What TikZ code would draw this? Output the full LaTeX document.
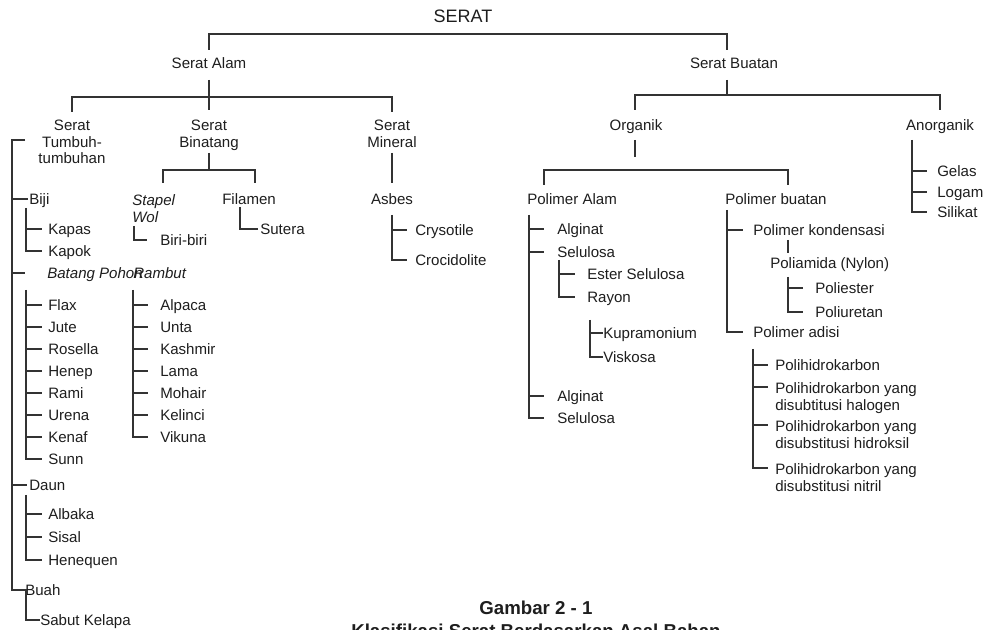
\documentclass[tikz,border=0pt]{standalone}
\usepackage{fontspec}
\setmainfont{Liberation Sans}
\newcommand\nrmf{\fontsize{11.3}{12.4}\selectfont}
\newcommand\bigtf{\fontsize{13.5}{15}\selectfont}
\newcommand\captf{\fontsize{14}{16}\selectfont\bfseries}
\definecolor{ln}{HTML}{333333}
\definecolor{tx}{HTML}{1E1E1E}
\tikzset{
  lbl/.style={font=\nrmf, text=tx, inner sep=0pt, anchor=mid west, yshift=-1.4pt},
  clbl/.style={font=\nrmf, text=tx, inner sep=0pt, anchor=mid, yshift=-1.4pt},
  mlw/.style={font=\fontsize{11.3}{13.3}\selectfont, text=tx, inner sep=0pt, align=left, anchor=north west, yshift=-0.8pt},
  mlc/.style={font=\nrmf, text=tx, inner sep=0pt, align=center, anchor=north, yshift=-0.8pt},
  conn/.style={draw=ln, line width=1.1pt},
}
\begin{document}
\begin{tikzpicture}[x=0.75pt,y=-0.75pt]
\useasboundingbox (0,0) rectangle (990,630);
\clip (0,0) rectangle (990,630);
\fill[white] (0,0) rectangle (990,630);

% ---- top levels ----
\node[font=\bigtf, text=tx, inner sep=0pt] (serat) at (463,16) {SERAT};
\node[clbl] (alam) at (209,63) {Serat Alam};
\node[clbl] (buatan) at (734,63) {Serat Buatan};
\draw[conn] (209,50) -- (209,34) -- (727,34) -- (727,50);

\node[mlc] (tumbuh) at (72,119) {Serat\\Tumbuh-\\tumbuhan};
\node[mlc] (binatang) at (209,119) {Serat\\Binatang};
\node[mlc] (mineral) at (392,119) {Serat\\Mineral};
\draw[conn] (209,80) -- (209,110);
\draw[conn] (72,112) -- (72,97) -- (392,97) -- (392,112);

\node[clbl] (organik) at (636,125) {Organik};
\node[clbl] (anorganik) at (940,125) {Anorganik};
\draw[conn] (727,80) -- (727,95);
\draw[conn] (635,110) -- (635,95) -- (940,95) -- (940,110);

% ---- Serat Tumbuh-tumbuhan ----
\node[lbl] (biji) at (29,199) {Biji};
\node[lbl] (batang) at (47,273) {\itshape Batang Pohon};
\node[lbl] (daun) at (29,485) {Daun};
\node[lbl] (buah) at (25,590) {Buah};
\draw[conn] (25,140) -- (12,140) -- (12,590) -- (27,590);
\draw[conn] (12,199) -- (28,199);
\draw[conn] (12,273) -- (25,273);
\draw[conn] (12,485) -- (27,485);

\node[lbl] (kapas) at (48,229) {Kapas};
\node[lbl] (kapok) at (48,251) {Kapok};
\draw[conn] (26,208) -- (26,251) -- (42,251);
\draw[conn] (26,229) -- (42,229);

\node[lbl] (flax) at (48,305) {Flax};
\node[lbl] (jute) at (48,327) {Jute};
\node[lbl] (rosella) at (48,349) {Rosella};
\node[lbl] (henep) at (48,371) {Henep};
\node[lbl] (rami) at (48,393) {Rami};
\node[lbl] (urena) at (48,415) {Urena};
\node[lbl] (kenaf) at (48,437) {Kenaf};
\node[lbl] (sunn) at (48,459) {Sunn};
\draw[conn] (26,290) -- (26,459) -- (42,459);
\foreach \yy in {305,327,349,371,393,415,437} \draw[conn] (26,\yy) -- (42,\yy);

\node[lbl] (albaka) at (48,514) {Albaka};
\node[lbl] (sisal) at (48,537) {Sisal};
\node[lbl] (henequen) at (48,560) {Henequen};
\draw[conn] (26,495) -- (26,560) -- (42,560);
\draw[conn] (26,514) -- (42,514);
\draw[conn] (26,537) -- (42,537);

\node[lbl] (sabut) at (40,620) {Sabut Kelapa};
\draw[conn] (26,589) -- (26,620) -- (40,620);

% ---- Serat Binatang ----
\draw[conn] (209,153) -- (209,170);
\draw[conn] (163,183) -- (163,170) -- (255,170) -- (255,183);
\node[mlw, font=\fontsize{11.3}{12.75}\selectfont\itshape] (stapel) at (132,193) {Stapel\\Wol};
\node[lbl] (filamen) at (222,199) {Filamen};
\node[lbl] (biri) at (160,240) {Biri-biri};
\node[lbl] (sutera) at (260,229) {Sutera};
\draw[conn] (134,226) -- (134,240) -- (147,240);
\draw[conn] (240,207) -- (240,229) -- (258,229);

\node[lbl] (rambut) at (133,273) {\itshape Rambut};
\node[lbl] (alpaca) at (160,305) {Alpaca};
\node[lbl] (unta) at (160,327) {Unta};
\node[lbl] (kashmir) at (160,349) {Kashmir};
\node[lbl] (lama) at (160,371) {Lama};
\node[lbl] (mohair) at (160,393) {Mohair};
\node[lbl] (kelinci) at (160,415) {Kelinci};
\node[lbl] (vikuna) at (160,437) {Vikuna};
\draw[conn] (133,290) -- (133,437) -- (148,437);
\foreach \yy in {305,327,349,371,393,415} \draw[conn] (133,\yy) -- (148,\yy);

% ---- Serat Mineral ----
\draw[conn] (392,153) -- (392,183);
\node[clbl] (asbes) at (392,199) {Asbes};
\node[lbl] (crysotile) at (415,230) {Crysotile};
\node[lbl] (crocidolite) at (415,260) {Crocidolite};
\draw[conn] (392,215) -- (392,260) -- (407,260);
\draw[conn] (392,230) -- (407,230);

% ---- Organik ----
\draw[conn] (635,140) -- (635,157);
\draw[conn] (544,185) -- (544,170) -- (788,170) -- (788,185);
\node[lbl] (palam) at (527,199) {Polimer Alam};
\node[lbl] (pbuatan) at (725,199) {Polimer buatan};

\node[lbl] (alginat1) at (557,229) {Alginat};
\node[lbl] (selulosa1) at (557,252) {Selulosa};
\node[lbl] (ester) at (587,274) {Ester Selulosa};
\node[lbl] (rayon) at (587,297) {Rayon};
\node[lbl] (kupra) at (603,333) {Kupramonium};
\node[lbl] (viskosa) at (603,357) {Viskosa};
\node[lbl] (alginat2) at (557,396) {Alginat};
\node[lbl] (selulosa2) at (557,418) {Selulosa};
\draw[conn] (529,215) -- (529,418) -- (544,418);
\foreach \yy in {229,252,396} \draw[conn] (529,\yy) -- (544,\yy);
\draw[conn] (559,260) -- (559,297) -- (575,297);
\draw[conn] (559,274) -- (575,274);
\draw[conn] (590,320) -- (590,357) -- (603,357);
\draw[conn] (590,333) -- (603,333);

\node[lbl] (kondensasi) at (753,230) {Polimer kondensasi};
\node[lbl] (poliamida) at (770,263) {Poliamida (Nylon)};
\node[lbl] (poliester) at (815,288) {Poliester};
\node[lbl] (poliuretan) at (815,312) {Poliuretan};
\node[lbl] (adisi) at (753,332) {Polimer adisi};
\draw[conn] (727,210) -- (727,332) -- (743,332);
\draw[conn] (727,230) -- (743,230);
\draw[conn] (788,240) -- (788,253);
\draw[conn] (788,277) -- (788,312) -- (803,312);
\draw[conn] (788,288) -- (803,288);

\node[lbl] (ph1) at (775,365) {Polihidrokarbon};
\node[mlw] (ph2) at (775,381) {Polihidrokarbon yang\\disubtitusi halogen};
\node[mlw] (ph3) at (775,419) {Polihidrokarbon yang\\disubstitusi hidroksil};
\node[mlw] (ph4) at (775,462) {Polihidrokarbon yang\\disubstitusi nitril};
\draw[conn] (753,349) -- (753,468) -- (768,468);
\foreach \yy in {365,387,425} \draw[conn] (753,\yy) -- (768,\yy);

% ---- Anorganik ----
\node[lbl] (gelas) at (937,171) {Gelas};
\node[lbl] (logam) at (937,192) {Logam};
\node[lbl] (silikat) at (937,212) {Silikat};
\draw[conn] (912,140) -- (912,212) -- (927,212);
\draw[conn] (912,171) -- (927,171);
\draw[conn] (912,192) -- (927,192);

% ---- caption ----
\node[font=\captf, text=tx, inner sep=0pt] (cap1) at (536,608) {Gambar 2 - 1};
\node[font=\captf, text=tx, inner sep=0pt, anchor=base] (cap2) at (536,638) {Klasifikasi Serat Berdasarkan Asal Bahan};
\end{tikzpicture}
\end{document}
